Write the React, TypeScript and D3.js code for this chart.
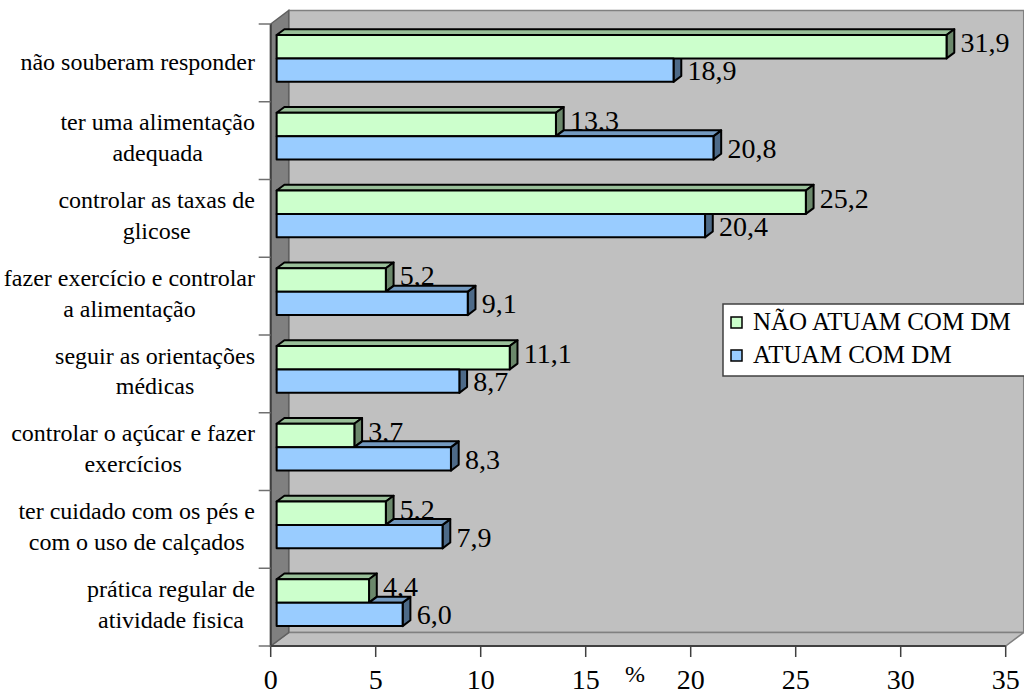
import React, { useLayoutEffect, useRef } from "react";
import * as d3 from "d3";

// ---- data ----
const categoryLines: string[][] = [
  ["não souberam responder"],
  ["ter uma alimentação", "adequada"],
  ["controlar as taxas de", "glicose"],
  ["fazer exercício e controlar", "a alimentação"],
  ["seguir as orientações", "médicas"],
  ["controlar o açúcar e fazer", "exercícios"],
  ["ter cuidado com os pés e", "com o uso de calçados"],
  ["prática regular de", "atividade fisica"],
];
const categories = categoryLines.map((l) => l.join(" "));
const naoAtuam = [31.9, 13.3, 25.2, 5.2, 11.1, 3.7, 5.2, 4.4];
const atuam = [18.9, 20.8, 20.4, 9.1, 8.7, 8.3, 7.9, 6.0];
const seriesNames = ["NÃO ATUAM COM DM", "ATUAM COM DM"];
const xTicks = [0, 5, 10, 15, 20, 25, 30, 35];
const axisTitle = "%";

// ---- layout ----
const W = 1024;
const H = 694;
const X0 = 270.7;
const X1 = 1005.7;
const YT = 24;
const YB = 646;
const DX = 18; // wall depth (screen offset)
const DY = -13.5;
const F1 = 0.33; // bar front depth fraction
const F2 = 0.76; // bar back depth fraction
const SERIF = "'Liberation Serif'";

const colors = {
  nao: { front: "#CCFFCC", top: "#99BF99", side: "#6B886B" },
  atuam: { front: "#99CCFF", top: "#7399BF", side: "#4D6A88" },
};

const fmt = (v: number) => v.toFixed(1).replace(".", ",");
const pts = (p: [number, number][]) => p.map((q) => q.join(",")).join(" ");

export default function App() {
  const labelsRef = useRef<SVGGElement>(null);

  const x = d3.scaleLinear().domain([0, 35]).range([X0, X1]);
  const y = d3.scaleBand<string>().domain(categories).range([YT, YB]).padding(0);
  const step = y.bandwidth();
  const inner = d3
    .scaleBand<string>()
    .domain(["nao", "atuam"])
    .range([0, step])
    .paddingInner(0)
    .paddingOuter(0.66);
  const bw = inner.bandwidth();

  const ox = F1 * DX;
  const oy = F1 * DY;
  const bdx = (F2 - F1) * DX;
  const bdy = (F2 - F1) * DY;

  // category labels: each block right-aligned at labelRight, lines centred in it
  useLayoutEffect(() => {
    if (!labelsRef.current) return;
    const labelRight = 255;
    d3.select(labelsRef.current)
      .selectAll<SVGTextElement, unknown>("text")
      .each(function () {
        const spans = Array.from(this.querySelectorAll("tspan")) as SVGTSpanElement[];
        const maxW = Math.max(...spans.map((s) => s.getComputedTextLength()));
        spans.forEach((s) => s.setAttribute("x", String(labelRight - maxW / 2)));
      });
  }, []);

  const stroke = { stroke: "#000", strokeWidth: 2, strokeLinejoin: "round" as const };

  const bars: React.ReactNode[] = [];
  categories.forEach((c, i) => {
    const g = naoAtuam[i];
    const b = atuam[i];
    const gTop = (y(c) as number) + (inner("nao") as number) + oy;
    const gBot = gTop + bw;
    const bTop = (y(c) as number) + (inner("atuam") as number) + oy;
    const bBot = bTop + bw;
    const xl = X0 + ox;
    const gx = x(g) + ox;
    const bx = x(b) + ox;

    // lower bar: side face first (upper bar covers its hidden part)
    bars.push(
      <polygon key={`bs${i}`} points={pts([[bx, bTop], [bx + bdx, bTop + bdy], [bx + bdx, bBot + bdy], [bx, bBot]])} fill={colors.atuam.side} {...stroke} />
    );
    // upper bar
    bars.push(
      <g key={`g${i}`}>
        <polygon points={pts([[xl, gTop], [xl + bdx, gTop + bdy], [gx + bdx, gTop + bdy], [gx, gTop]])} fill={colors.nao.top} {...stroke} />
        <polygon points={pts([[gx, gTop], [gx + bdx, gTop + bdy], [gx + bdx, gBot + bdy], [gx, gBot]])} fill={colors.nao.side} {...stroke} />
        <rect x={xl} y={gTop} width={gx - xl} height={bw} fill={colors.nao.front} {...stroke} />
        <text x={gx + 14} y={gTop + bw / 2 - 4 + 9.5} fontSize={28} style={{ fontFamily: SERIF }} fill="#000">
          {fmt(g)}
        </text>
      </g>
    );
    // lower bar: visible part of its top face, then front
    if (b > g) {
      bars.push(
        <polygon key={`bt${i}`} points={pts([[gx, bTop], [gx + bdx, bTop + bdy], [bx + bdx, bTop + bdy], [bx, bTop]])} fill={colors.atuam.top} {...stroke} />
      );
    }
    bars.push(
      <g key={`b${i}`}>
        <rect x={xl} y={bTop} width={bx - xl} height={bw} fill={colors.atuam.front} {...stroke} />
        <text x={bx + 14} y={bTop + bw / 2 + 10} fontSize={28} style={{ fontFamily: SERIF }} fill="#000">
          {fmt(b)}
        </text>
      </g>
    );
  });

  return (
    <svg width={W} height={H} style={{ position: "absolute", left: 0, top: 0, background: "#fff", fontFamily: SERIF }}>
      {/* back wall */}
      <rect x={X0 + DX} y={YT + DY} width={X1 - X0} height={YB - YT} fill="#C0C0C0" stroke="#808080" strokeWidth={1.5} />
      {/* floor */}
      <polygon points={pts([[X0, YB], [X0 + DX, YB + DY], [X1 + DX, YB + DY], [X1, YB]])} fill="#C0C0C0" stroke="#808080" strokeWidth={1.5} />
      {/* side wall */}
      <polygon points={pts([[X0, YT], [X0 + DX, YT + DY], [X0 + DX, YB + DY], [X0, YB]])} fill="#808080" stroke="#606060" strokeWidth={1.5} />

      {/* axes */}
      <line x1={X0} y1={YT} x2={X0} y2={YB} stroke="#404040" strokeWidth={2} />
      <line x1={X0} y1={YB} x2={X1} y2={YB} stroke="#404040" strokeWidth={2} />
      {xTicks.map((t) => (
        <g key={`xt${t}`}>
          <line x1={x(t)} y1={YB} x2={x(t)} y2={YB + 11} stroke="#404040" strokeWidth={1.5} />
          <text x={x(t)} y={689} textAnchor="middle" fontSize={28} style={{ fontFamily: SERIF }} fill="#000">
            {t}
          </text>
        </g>
      ))}
      {[...categories.map((c) => y(c) as number), YB].map((yy, i) => (
        <line key={`yt${i}`} x1={X0 - 12} y1={yy} x2={X0} y2={yy} stroke="#707070" strokeWidth={1.5} />
      ))}
      <text x={635} y={682} textAnchor="middle" fontSize={24} style={{ fontFamily: SERIF }} fill="#000">
        {axisTitle}
      </text>

      <g ref={labelsRef}>
        {categoryLines.map((lines, i) => {
          const c = (y(categories[i]) as number) + step / 2;
          const b0 = lines.length === 1 ? c + 7.2 : c - 10.2;
          return (
            <text key={`cl${i}`} fontSize={24} style={{ fontFamily: SERIF }} textAnchor="middle" fill="#000">
              {lines.map((l, j) => (
                <tspan key={j} x={140} y={b0 + j * 30.8}>
                  {l}
                </tspan>
              ))}
            </text>
          );
        })}
      </g>

      {bars}

      {/* legend */}
      <rect x={723} y={304} width={320} height={72} fill="#fff" stroke="#404040" strokeWidth={1.5} />
      {seriesNames.map((s, i) => (
        <g key={`lg${i}`}>
          <rect x={731} y={317 + i * 33} width={11} height={11} fill={i === 0 ? colors.nao.front : colors.atuam.front} stroke="#000" strokeWidth={1.5} />
          <text x={753} y={330 + i * 32.5} fontSize={25} style={{ fontFamily: SERIF }} fill="#000">
            {s}
          </text>
        </g>
      ))}
    </svg>
  );
}
